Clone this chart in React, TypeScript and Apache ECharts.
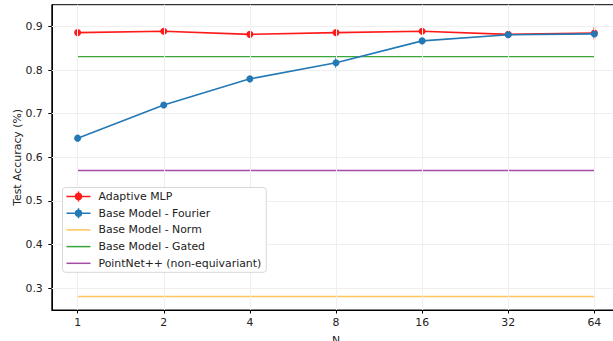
import React, { useEffect, useRef } from "react";
import * as echarts from "echarts";

const xValues = [1, 2, 4, 8, 16, 32, 64];
const yTicks = [0.3, 0.4, 0.5, 0.6, 0.7, 0.8, 0.9];

const adaptiveMLP = [0.886, 0.889, 0.882, 0.886, 0.889, 0.882, 0.885];
const adaptiveErr = [0.003, 0.003, 0.003, 0.003, 0.003, 0.003, 0.015];
const fourier = [0.644, 0.72, 0.78, 0.817, 0.867, 0.881, 0.883];
const fourierErr = [0.009, 0.004, 0.004, 0.012, 0.004, 0.004, 0.006];
const normValue = 0.281;
const gatedValue = 0.831;
const pointNetValue = 0.57;

const FONT = "DejaVu Sans";
const FS = 10.9;
const RED = "#ff1a1a";
const BLUE = "#2379b6";
const ORANGE = "#ffc45c";
const GREEN = "#3aa53a";
const PURPLE = "#a64ca6";

const LINE_ICON = "path://M0,4.25 L24,4.25 L24,5.75 L0,5.75 Z";
const MARKER_ICON =
  "path://M0,4.2 L24,4.2 L24,5.8 L0,5.8 Z M8.3,5 A3.7,3.7 0 1,1 15.7,5 A3.7,3.7 0 1,1 8.3,5 Z M11.2,0 L12.8,0 L12.8,10 L11.2,10 Z";

function errorSeries(name: string, vals: number[], errs: number[], color: string) {
  return {
    type: "custom",
    name: name + "-err",
    silent: true,
    z: 3,
    data: xValues.map((x, i) => [x, vals[i] - errs[i], vals[i] + errs[i]]),
    renderItem: (params: any, api: any) => {
      const lo = api.coord([api.value(0), api.value(1)]);
      const hi = api.coord([api.value(0), api.value(2)]);
      return {
        type: "line",
        shape: { x1: lo[0], y1: lo[1], x2: hi[0], y2: hi[1] },
        style: { stroke: color, lineWidth: 1.5 },
      };
    },
  };
}

export default function App() {
  const ref = useRef<HTMLDivElement>(null);
  useEffect(() => {
    if (!ref.current) return;
    const chart = echarts.init(ref.current, undefined, { renderer: "svg" });
    const flat = (v: number) => xValues.map((x) => [x, v]);
    chart.setOption({
      animation: false,
      backgroundColor: "#ffffff",
      textStyle: { fontFamily: FONT },
      grid: {
        left: 51.8,
        top: 4.7,
        width: 568.4,
        height: 305.3,
        outerBoundsMode: "none",
        containLabel: false,
        show: true,
        borderColor: "#000",
        borderWidth: 1,
        backgroundColor: "transparent",
      },
      legend: {
        orient: "vertical",
        left: 62.5,
        top: 187.5,
        z: 100,
        backgroundColor: "#fff",
        borderColor: "#d8d8d8",
        borderWidth: 1,
        borderRadius: 3,
        padding: [3, 5, 3, 4],
        itemWidth: 24,
        itemHeight: 10,
        itemGap: 4.7,
        symbolKeepAspect: true,
        textStyle: { fontFamily: FONT, fontSize: FS, color: "#222", lineHeight: 12, padding: [0, 0, 0, 3] },
        data: [
          { name: "Adaptive MLP", icon: MARKER_ICON, itemStyle: { color: RED } },
          { name: "Base Model - Fourier", icon: MARKER_ICON, itemStyle: { color: BLUE } },
          { name: "Base Model - Norm", icon: LINE_ICON, itemStyle: { color: ORANGE } },
          { name: "Base Model - Gated", icon: LINE_ICON, itemStyle: { color: GREEN } },
          { name: "PointNet++ (non-equivariant)", icon: LINE_ICON, itemStyle: { color: PURPLE } },
        ],
      },
      xAxis: {
        type: "log",
        logBase: 2,
        min: Math.pow(2, -0.3),
        max: Math.pow(2, 6.3),
        name: "N",
        nameLocation: "middle",
        nameGap: 25,
        nameMoveOverlap: false,
        nameTextStyle: { fontFamily: FONT, fontSize: FS, color: "#222", verticalAlign: "top" },
        axisLine: { show: true, lineStyle: { color: "#000", width: 1 } },
        axisTick: { show: true, length: 3.5, inside: false, customValues: xValues, lineStyle: { color: "#000" } },
        axisLabel: {
          customValues: xValues,
          margin: 7,
          fontFamily: FONT,
          fontSize: FS,
          color: "#222",
          formatter: (v: number) => String(Math.round(v)),
        },
        splitLine: { show: false },
        minorSplitLine: { show: false },
      },
      yAxis: {
        type: "value",
        min: 0.25,
        max: 0.95,
        name: "Test Accuracy (%)",
        nameLocation: "middle",
        nameGap: 29,
        nameMoveOverlap: false,
        nameRotate: 90,
        nameTextStyle: { fontFamily: FONT, fontSize: FS, color: "#222" },
        axisLine: { show: true, lineStyle: { color: "#000", width: 1 } },
        axisTick: { show: true, length: 3.5, customValues: yTicks, lineStyle: { color: "#000" } },
        axisLabel: {
          customValues: yTicks,
          margin: 9,
          fontFamily: FONT,
          fontSize: FS,
          color: "#222",
          formatter: (v: number) => v.toFixed(1),
        },
        splitLine: { show: false },
      },
      series: [
        {
          type: "line",
          name: "_grid",
          data: [],
          silent: true,
          z: 0,
          markLine: {
            silent: true,
            symbol: "none",
            label: { show: false },
            lineStyle: { color: "#efefef", width: 1, type: "solid" },
            data: [
              ...xValues.map((x) => ({ xAxis: x })),
              ...yTicks.map((y) => ({ yAxis: y })),
            ],
          },
        },
        {
          type: "line",
          name: "Base Model - Norm",
          data: flat(normValue),
          showSymbol: false,
          symbol: "none",
          lineStyle: { color: ORANGE, width: 1.5 },
          itemStyle: { color: ORANGE },
          z: 2,
        },
        {
          type: "line",
          name: "Base Model - Gated",
          data: flat(gatedValue),
          showSymbol: false,
          symbol: "none",
          lineStyle: { color: GREEN, width: 1.2 },
          itemStyle: { color: GREEN },
          z: 2,
        },
        {
          type: "line",
          name: "PointNet++ (non-equivariant)",
          data: flat(pointNetValue),
          showSymbol: false,
          symbol: "none",
          lineStyle: { color: PURPLE, width: 1.5 },
          itemStyle: { color: PURPLE },
          z: 2,
        },
        {
          type: "line",
          name: "Adaptive MLP",
          data: xValues.map((x, i) => [x, adaptiveMLP[i]]),
          symbol: "circle",
          symbolSize: 7,
          lineStyle: { color: RED, width: 1.6 },
          itemStyle: { color: RED },
          z: 4,
        },
        errorSeries("Adaptive MLP", adaptiveMLP, adaptiveErr, RED),
        {
          type: "line",
          name: "Base Model - Fourier",
          data: xValues.map((x, i) => [x, fourier[i]]),
          symbol: "circle",
          symbolSize: 7,
          lineStyle: { color: BLUE, width: 1.6 },
          itemStyle: { color: BLUE },
          z: 5,
        },
        errorSeries("Base Model - Fourier", fourier, fourierErr, BLUE),
      ],
    });
    return () => chart.dispose();
  }, []);
  return (
    <div
      ref={ref}
      style={{ position: "fixed", left: 0, top: 0, width: 613, height: 341, background: "#fff" }}
    />
  );
}
